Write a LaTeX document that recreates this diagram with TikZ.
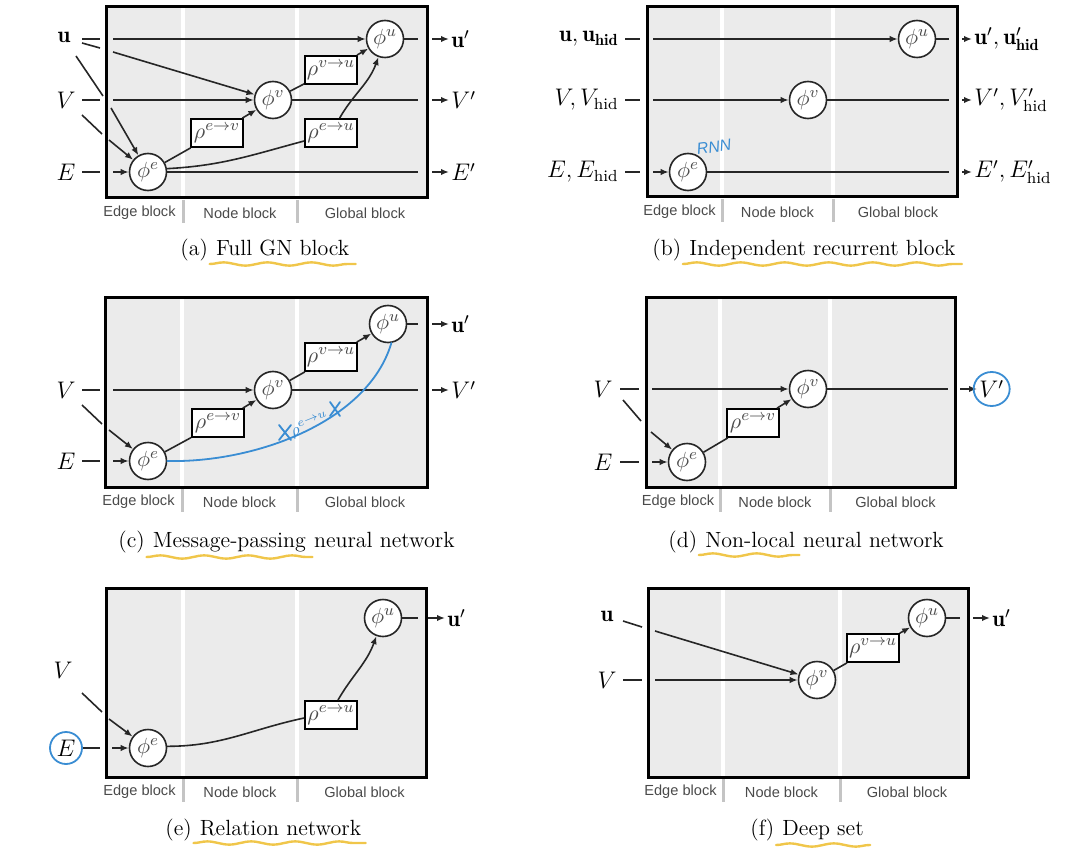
\documentclass[tikz,border=0pt]{standalone}
\usepackage{fontspec}
\newfontfamily\blockfont{Liberation Sans}
\usetikzlibrary{arrows.meta,decorations.pathmorphing,calc}
\definecolor{panelgray}{HTML}{EBEBEB}
\definecolor{divgray}{HTML}{C4C4C4}
\definecolor{labgray}{HTML}{4A4A4A}
\definecolor{handblue}{HTML}{3A8DD3}
\definecolor{hlyellow}{HTML}{F0C64A}
\tikzset{
  panelborder/.style={draw=black,line width=1.5pt},
  divin/.style={draw=white,line width=2pt},
  divout/.style={draw=divgray,line width=1.5pt},
  blocklab/.style={font=\blockfont\fontsize{7.3}{8}\selectfont,text=labgray,inner sep=0pt},
  fn/.style={circle,draw=black!85,line width=0.8pt,fill=white,minimum size=18.5pt,inner sep=0pt,font=\fontsize{11}{13}\selectfont,text=black!70},
  agg/.style={rectangle,draw=black,line width=0.9pt,fill=white,minimum width=26pt,minimum height=14pt,inner sep=0pt,font=\fontsize{11}{13}\selectfont,text=black!70},
  lab/.style={font=\fontsize{11.5}{13}\selectfont,inner sep=1pt},
  conn/.style={draw=black!85,line width=0.8pt},
  arr/.style={conn,-{Latex[length=4pt,width=3.2pt]}},
  captxt/.style={font=\fontsize{11}{13}\selectfont,inner sep=0pt},
  hand/.style={draw=handblue,line width=0.9pt,line cap=round},
  handtxt/.style={text=handblue,font=\blockfont\itshape\fontsize{8}{9}\selectfont,inner sep=0pt},
  hl/.style={draw=hlyellow,line width=1.2pt,line cap=round,decorate,decoration={snake,amplitude=0.8pt,segment length=22pt}},
}
\newcommand{\gnpanel}[6]{%
  \fill[panelgray] (#1,#2) rectangle (#3,#4);
  \draw[divin] (#5,#2) -- (#5,#4);
  \draw[divin] (#6,#2) -- (#6,#4);
  \draw[divout] (#5,{#4+2}) -- (#5,{#4+25});
  \draw[divout] (#6,{#4+2}) -- (#6,{#4+25});
  \draw[panelborder] (#1,#2) rectangle (#3,#4);
  \node[blocklab] at ({(#1+#5)/2-5},{#4+15}) {Edge block};
  \node[blocklab] at ({(#5+#6)/2},{#4+15}) {Node block};
  \node[blocklab] at ({(#6+#3)/2+3},{#4+15}) {Global block};
}
\begin{document}
\begin{tikzpicture}[x=0.5pt,y=-0.5pt]
\useasboundingbox (0,0) rectangle (1080,850);

% ================= (a) Full GN block =================
\gnpanel{106}{7}{427}{198}{183}{297}
\node[fn] (a-pu) at (385,39) {$\phi^u$};
\node[fn] (a-pv) at (273,100) {$\phi^v$};
\node[fn] (a-pe) at (148,172) {$\phi^e$};
\node[agg] (a-rvu) at (331,70) {$\rho^{v\to u}$};
\node[agg] (a-rev) at (217,133) {$\rho^{e\to v}$};
\node[agg] (a-reu) at (331,133) {$\rho^{e\to u}$};
\node[lab] (a-u) at (64,37) {$\mathbf{u}$};
\node[lab] (a-V) at (66,100) {$V$};
\node[lab] (a-E) at (66,172) {$E$};
\coordinate (a-u1a) at (82,39); \coordinate (a-u1b) at (100,39); \coordinate (a-u1c) at (113,39);
\coordinate (a-u2a) at (82,43); \coordinate (a-u2b) at (100,48); \coordinate (a-u2c) at (113,52);
\coordinate (a-u3a) at (76,56); \coordinate (a-u3b) at (103,96); \coordinate (a-u3c) at (111,108);
\coordinate (a-v1a) at (82,100); \coordinate (a-v1b) at (100,100); \coordinate (a-v1c) at (113,100);
\coordinate (a-v2a) at (82,115); \coordinate (a-v2b) at (102,134); \coordinate (a-v2c) at (109,140);
\coordinate (a-e1a) at (82,172); \coordinate (a-e1b) at (100,172); \coordinate (a-e1c) at (113,172);
\draw[conn] (a-u1a) -- (a-u1b); \draw[arr] (a-u1c) -- (a-pu);
\draw[conn] (a-u2a) -- (a-u2b); \draw[arr] (a-u2c) -- (a-pv);
\draw[conn] (a-u3a) -- (a-u3b); \draw[arr] (a-u3c) -- (a-pe);
\draw[conn] (a-v1a) -- (a-v1b); \draw[arr] (a-v1c) -- (a-pv);
\draw[conn] (a-v2a) -- (a-v2b); \draw[arr] (a-v2c) -- (a-pe);
\draw[conn] (a-e1a) -- (a-e1b); \draw[arr] (a-e1c) -- (a-pe);
\draw[conn] (a-pe) -- (a-rev);
\draw[arr] (a-rev) -- (a-pv);
\draw[conn] (a-pv) -- (a-rvu);
\draw[arr] (a-rvu) -- (a-pu);
\draw[conn] (a-pe.10) to[out=3,in=195] ([yshift=-4pt]a-reu.west);
\draw[arr] (a-reu.60) to[out=60,in=250] (a-pu);
\coordinate (a-uo) at (418,39); \coordinate (a-vo) at (418,100); \coordinate (a-eo) at (418,172);
\draw[conn] (a-pu) -- (a-uo);
\draw[conn] (a-pv) -- (a-vo);
\draw[conn] (a-pe) -- (a-eo);
\coordinate (a-ua) at (432,39); \coordinate (a-va) at (432,100); \coordinate (a-ea) at (432,172);
\node[lab,anchor=west] (a-up) at (449,39) {$\mathbf{u}'$};
\node[lab,anchor=west] (a-vp) at (449,100) {$V'$};
\node[lab,anchor=west] (a-ep) at (449,172) {$E'$};
\draw[arr] (a-ua) -- (a-up.west);
\draw[arr] (a-va) -- (a-vp.west);
\draw[arr] (a-ea) -- (a-ep.west);

% ================= (b) Independent recurrent block =================
\gnpanel{647}{7}{957}{197}{722}{833}
\node[fn] (b-pu) at (917,39) {$\phi^u$};
\node[fn] (b-pv) at (808,100) {$\phi^v$};
\node[fn] (b-pe) at (688,172) {$\phi^e$};
\node[lab,anchor=east] (b-u) at (621,39) {$\mathbf{u},\mathbf{u}_{\mathbf{hid}}$};
\node[lab,anchor=east] (b-V) at (621,100) {$V,V_{\mathrm{hid}}$};
\node[lab,anchor=east] (b-E) at (621,172) {$E,E_{\mathrm{hid}}$};
\coordinate (b-u1a) at (625,39); \coordinate (b-u1b) at (640,39); \coordinate (b-u1c) at (653,39);
\coordinate (b-v1a) at (625,100); \coordinate (b-v1b) at (640,100); \coordinate (b-v1c) at (653,100);
\coordinate (b-e1a) at (625,172); \coordinate (b-e1b) at (640,172); \coordinate (b-e1c) at (653,172);
\draw[conn] (b-u1a) -- (b-u1b); \draw[arr] (b-u1c) -- (b-pu);
\draw[conn] (b-v1a) -- (b-v1b); \draw[arr] (b-v1c) -- (b-pv);
\draw[conn] (b-e1a) -- (b-e1b); \draw[arr] (b-e1c) -- (b-pe);
\coordinate (b-uo) at (949,39); \coordinate (b-vo) at (949,100); \coordinate (b-eo) at (949,172);
\draw[conn] (b-pu) -- (b-uo);
\draw[conn] (b-pv) -- (b-vo);
\draw[conn] (b-pe) -- (b-eo);
\coordinate (b-ua) at (962,39); \coordinate (b-va) at (962,100); \coordinate (b-ea) at (962,172);
\node[lab,anchor=west] (b-up) at (972,39) {$\mathbf{u}',\mathbf{u}'_{\mathbf{hid}}$};
\node[lab,anchor=west] (b-vp) at (972,100) {$V',V'_{\mathrm{hid}}$};
\node[lab,anchor=west] (b-ep) at (972,172) {$E',E'_{\mathrm{hid}}$};
\draw[arr] (b-ua) -- (b-up.west);
\draw[arr] (b-va) -- (b-vp.west);
\draw[arr] (b-ea) -- (b-ep.west);
\node[handtxt,rotate=8] (b-rnn) at (714,147) {RNN};

% ================= (c) Message-passing neural network =================
\gnpanel{105}{297}{427}{487}{182}{297}
\node[fn] (c-pu) at (388,324) {$\phi^u$};
\node[fn] (c-pv) at (273,390) {$\phi^v$};
\node[fn] (c-pe) at (148,461) {$\phi^e$};
\node[agg] (c-rvu) at (331,357) {$\rho^{v\to u}$};
\node[agg] (c-rev) at (218,423) {$\rho^{e\to v}$};
\node[lab] (c-V) at (66,390) {$V$};
\node[lab] (c-E) at (66,461) {$E$};
\coordinate (c-v1a) at (82,390); \coordinate (c-v1b) at (100,390); \coordinate (c-v1c) at (113,390);
\coordinate (c-v2a) at (82,405); \coordinate (c-v2b) at (102,424); \coordinate (c-v2c) at (109,430);
\coordinate (c-e1a) at (82,461); \coordinate (c-e1b) at (100,461); \coordinate (c-e1c) at (113,461);
\draw[conn] (c-v1a) -- (c-v1b); \draw[arr] (c-v1c) -- (c-pv);
\draw[conn] (c-v2a) -- (c-v2b); \draw[arr] (c-v2c) -- (c-pe);
\draw[conn] (c-e1a) -- (c-e1b); \draw[arr] (c-e1c) -- (c-pe);
\draw[conn] (c-pe) -- (c-rev);
\draw[arr] (c-rev) -- (c-pv);
\draw[conn] (c-pv) -- (c-rvu);
\draw[arr] (c-rvu) -- (c-pu);
\coordinate (c-uo) at (418,324); \coordinate (c-vo) at (418,390);
\draw[conn] (c-pu) -- (c-uo);
\draw[conn] (c-pv) -- (c-vo);
\coordinate (c-ua) at (432,324); \coordinate (c-va) at (432,390);
\node[lab,anchor=west] (c-up) at (449,324) {$\mathbf{u}'$};
\node[lab,anchor=west] (c-vp) at (449,390) {$V'$};
\draw[arr] (c-ua) -- (c-up.west);
\draw[arr] (c-va) -- (c-vp.west);
% handwritten annotation
\draw[hand] (c-pe.east) .. controls (255,463) and (368,422) .. (c-pu.-80);
\draw[hand] (279,425) -- (291,440) (279,440) -- (291,425);
\draw[hand] (330,402) -- (340,416) (330,416) -- (340,402);
\node[handtxt,rotate=22,font=\fontsize{8.5}{9}\selectfont] (c-rho) at (310,425) {$\rho^{e\to u}$};

% ================= (d) Non-local neural network =================
\gnpanel{646}{297}{955}{487}{720}{830}
\node[fn] (d-pv) at (808,389) {$\phi^v$};
\node[fn] (d-pe) at (687,462) {$\phi^e$};
\node[agg] (d-rev) at (753,423) {$\rho^{e\to v}$};
\node[lab] (d-V) at (603,389) {$V$};
\node[lab] (d-E) at (603,462) {$E$};
\coordinate (d-v1a) at (620,389); \coordinate (d-v1b) at (639,389); \coordinate (d-v1c) at (652,389);
\coordinate (d-v2a) at (623,400); \coordinate (d-v2b) at (641,421); \coordinate (d-v2c) at (651,432);
\coordinate (d-e1a) at (620,462); \coordinate (d-e1b) at (639,462); \coordinate (d-e1c) at (652,462);
\draw[conn] (d-v1a) -- (d-v1b); \draw[arr] (d-v1c) -- (d-pv);
\draw[conn] (d-v2a) -- (d-v2b); \draw[arr] (d-v2c) -- (d-pe);
\draw[conn] (d-e1a) -- (d-e1b); \draw[arr] (d-e1c) -- (d-pe);
\draw[conn] (d-pe) -- (d-rev);
\draw[arr] (d-rev) -- (d-pv);
\coordinate (d-vo) at (948,389);
\draw[conn] (d-pv) -- (d-vo);
\coordinate (d-va) at (960,389);
\node[lab,anchor=west] (d-vp) at (977,389) {$V'$};
\draw[arr] (d-va) -- (d-vp.west);
\draw[hand] (d-vp.center) ellipse [x radius=9pt, y radius=8.5pt];

% ================= (e) Relation network =================
\gnpanel{106}{588}{426}{777}{183}{297}
\node[fn] (e-pu) at (383,618) {$\phi^u$};
\node[fn] (e-pe) at (148,748) {$\phi^e$};
\node[agg] (e-reu) at (331,715) {$\rho^{e\to u}$};
\node[lab] (e-V) at (63,670) {$V$};
\node[lab] (e-E) at (66,748) {$E$};
\coordinate (e-v2a) at (82,693); \coordinate (e-v2b) at (102,712); \coordinate (e-v2c) at (109,719);
\coordinate (e-e1a) at (83,748); \coordinate (e-e1b) at (100,748); \coordinate (e-e1c) at (112,748);
\draw[conn] (e-v2a) -- (e-v2b); \draw[arr] (e-v2c) -- (e-pe);
\draw[conn] (e-e1a) -- (e-e1b); \draw[arr] (e-e1c) -- (e-pe);
\draw[conn] (e-pe.5) to[out=0,in=192] ([yshift=-1.5pt]e-reu.west);
\draw[arr] (e-reu.65) to[out=60,in=250] (e-pu);
\coordinate (e-uo) at (418,618);
\draw[conn] (e-pu) -- (e-uo);
\coordinate (e-ua) at (428,618);
\node[lab,anchor=west] (e-up) at (445,618) {$\mathbf{u}'$};
\draw[arr] (e-ua) -- (e-up.west);
\draw[hand] (e-E.center) ellipse [x radius=8pt, y radius=8pt];

% ================= (f) Deep set =================
\gnpanel{648}{588}{968}{777}{723}{840}
\node[fn] (f-pu) at (927,618) {$\phi^u$};
\node[fn] (f-pv) at (817,680) {$\phi^v$};
\node[agg] (f-rvu) at (873,648) {$\rho^{v\to u}$};
\node[lab] (f-u) at (607,616) {$\mathbf{u}$};
\node[lab] (f-V) at (607,680) {$V$};
\coordinate (f-u1a) at (623,621); \coordinate (f-u1b) at (642,627); \coordinate (f-u1c) at (655,631);
\coordinate (f-v1a) at (623,680); \coordinate (f-v1b) at (642,680); \coordinate (f-v1c) at (655,680);
\draw[conn] (f-u1a) -- (f-u1b); \draw[arr] (f-u1c) -- (f-pv);
\draw[conn] (f-v1a) -- (f-v1b); \draw[arr] (f-v1c) -- (f-pv);
\draw[conn] (f-pv) -- (f-rvu);
\draw[arr] (f-rvu) -- (f-pu);
\coordinate (f-uo) at (960,618);
\draw[conn] (f-pu) -- (f-uo);
\coordinate (f-ua) at (973,618);
\node[lab,anchor=west] (f-up) at (990,618) {$\mathbf{u}'$};
\draw[arr] (f-ua) -- (f-up.west);

% ================= captions =================
\node[captxt,anchor=base west] (a-c1) at (180,256) {(a)};
\node[captxt,anchor=base west] (a-c2) at ([xshift=3.67pt]a-c1.base east) {Full GN block};
\draw[hl] ([xshift=-3pt,yshift=-4pt]a-c2.base west) -- ([xshift=3pt,yshift=-4pt]a-c2.base east);

\node[captxt,anchor=base west] (b-c1) at (652,256) {(b)};
\node[captxt,anchor=base west] (b-c2) at ([xshift=3.67pt]b-c1.base east) {Independent recurrent block};
\draw[hl] ([xshift=-3pt,yshift=-4pt]b-c2.base west) -- ([xshift=3pt,yshift=-4pt]b-c2.base east);

\node[captxt,anchor=base west] (c-c1) at (118,547) {(c)};
\node[captxt,anchor=base west] (c-c2) at ([xshift=3.67pt]c-c1.base east) {Message-passing};
\node[captxt,anchor=base west] (c-c3) at ([xshift=3.67pt]c-c2.base east) {neural network};
\draw[hl] ([xshift=-3pt,yshift=-5pt]c-c2.base west) -- ([xshift=3pt,yshift=-5pt]c-c2.base east);

\node[captxt,anchor=base west] (d-c1) at (668,547) {(d)};
\node[captxt,anchor=base west] (d-c2) at ([xshift=3.67pt]d-c1.base east) {Non-local};
\node[captxt,anchor=base west] (d-c3) at ([xshift=3.67pt]d-c2.base east) {neural network};
\draw[hl] ([xshift=-3pt,yshift=-4pt]d-c2.base west) -- ([xshift=2pt,yshift=-4pt]d-c2.base east);

\node[captxt,anchor=base west] (e-c1) at (165,835) {(e)};
\node[captxt,anchor=base west] (e-c2) at ([xshift=3.67pt]e-c1.base east) {Relation network};
\draw[hl] ([xshift=-3pt,yshift=-4pt]e-c2.base west) -- ([xshift=2pt,yshift=-4pt]e-c2.base east);

\node[captxt,anchor=base west] (f-c1) at (750,835) {(f)};
\node[captxt,anchor=base west] (f-c2) at ([xshift=3.67pt]f-c1.base east) {Deep set};
\draw[hl] ([xshift=-3pt,yshift=-5pt]f-c2.base west) -- ([xshift=3pt,yshift=-5pt]f-c2.base east);
\end{tikzpicture}
\end{document}
